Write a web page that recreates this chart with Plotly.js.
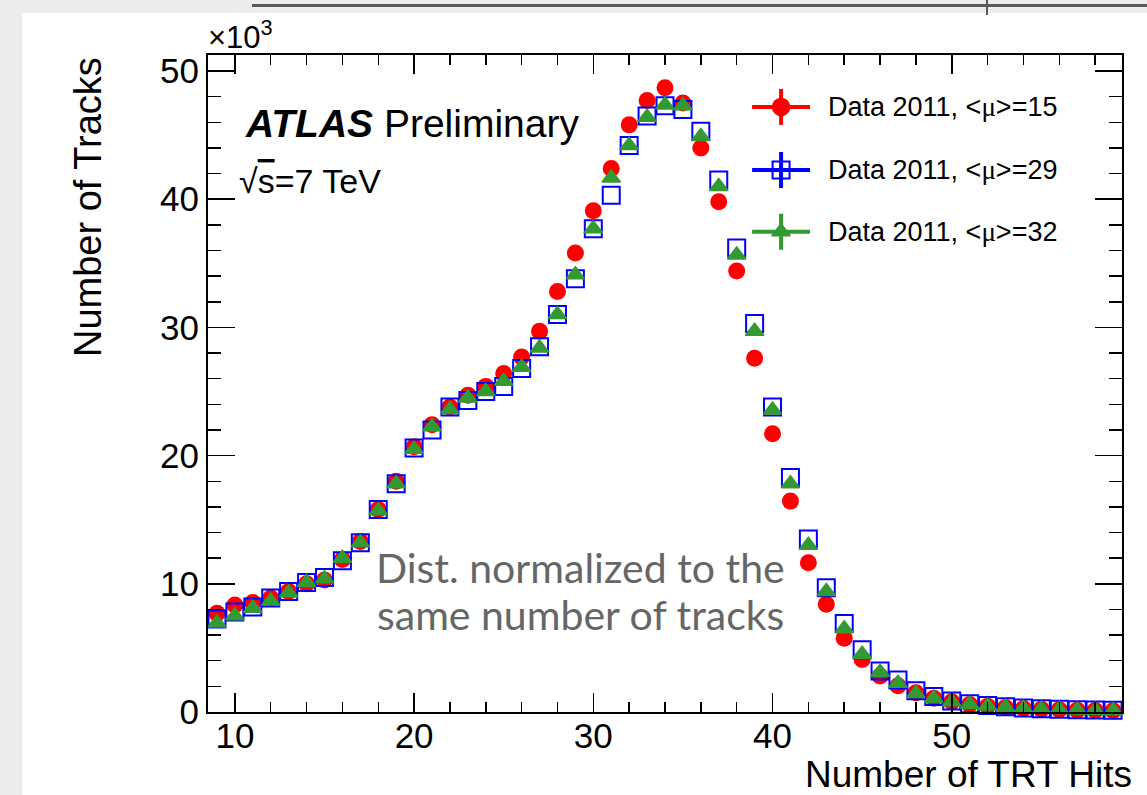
<!DOCTYPE html>
<html><head><meta charset="utf-8">
<script src="https://cdn.plot.ly/plotly-3.0.1.min.js"></script>
<style>html,body{margin:0;padding:0;background:#ececec;}#chart{width:1147px;height:795px;}</style>
</head><body><div id="chart"></div>
<script>
// Number of TRT hits (bin centres)
const hits = [9,10,11,12,13,14,15,16,17,18,19,20,21,22,23,24,25,26,27,28,29,30,31,32,33,34,35,36,37,38,39,40,41,42,43,44,45,46,47,48,49,50,51,52,53,54,55,56,57,58,59];
// Number of tracks (x10^3)
const mu15 = [7.7,8.35,8.55,8.9,9.4,10.0,10.3,11.9,13.3,15.8,18.0,20.7,22.4,23.8,24.7,25.4,26.4,27.7,29.7,32.8,35.8,39.1,42.4,45.8,47.7,48.7,47.5,44.0,39.8,34.4,27.6,21.7,16.45,11.65,8.4,5.75,4.1,2.8,2.05,1.5,1.07,0.8,0.58,0.45,0.35,0.28,0.22,0.18,0.14,0.12,0.1];
const mu29 = [7.25,7.8,8.2,8.9,9.4,10.1,10.5,11.8,13.2,15.8,17.8,20.6,22.0,23.8,24.3,25.0,25.4,26.8,28.5,31.0,33.8,37.7,40.3,44.2,46.5,47.3,47.0,45.3,41.5,36.2,30.3,23.8,18.3,13.5,9.7,6.9,4.85,3.2,2.5,1.65,1.2,0.85,0.65,0.5,0.4,0.32,0.26,0.22,0.18,0.15,0.13];
const mu32 = [6.95,7.5,8.1,8.65,9.3,10.1,10.4,12.0,13.2,15.7,17.8,20.5,22.25,23.6,24.5,25.0,25.8,26.9,28.4,31.0,34.1,37.7,41.65,44.2,46.4,47.35,47.3,44.9,41.0,35.65,29.7,23.55,17.8,13.0,9.4,6.5,4.5,3.1,2.25,1.45,1.07,0.8,0.6,0.47,0.37,0.3,0.24,0.2,0.16,0.13,0.11];
const seriesLabels = ['15','29','32'];
const xTitle = 'Number of TRT Hits';
const yTitle = 'Number of Tracks';

const RED = '#ff0000', BLUE = '#0000ff', GREEN = '#339933';
const FONT = 'Liberation Sans, Arial, sans-serif';

const traces = [
  {x: hits, y: mu15, type: 'scatter', mode: 'markers', cliponaxis: false, showlegend: false,
   marker: {symbol: 'circle', size: 17, color: RED}},
  {x: hits, y: mu29, type: 'scatter', mode: 'markers', cliponaxis: false, showlegend: false,
   marker: {symbol: 'square-open', size: 17, color: BLUE, line: {width: 2, color: BLUE}}},
  {x: hits, y: mu32, type: 'scatter', mode: 'markers', cliponaxis: false, showlegend: false,
   marker: {symbol: 'triangle-up', size: 16, color: GREEN, line: {width: 1.5, color: GREEN}}}
];

// legend keys (drawn on an auxiliary 0..1 axis pair)
const legX = 0.627, legY = [0.921, 0.825, 0.731];
const legCols = [RED, BLUE, GREEN];
const legSym = ['circle', 'square-open', 'triangle-up'];
const legSize = [17, 17, 16];
for (let i = 0; i < 3; i++) {
  traces.push({x: [legX], y: [legY[i]], xaxis: 'x2', yaxis: 'y2', type: 'scatter', mode: 'markers',
    showlegend: false, cliponaxis: false, hoverinfo: 'skip',
    error_x: {type: 'constant', value: 0.0317, width: 0, thickness: 4, color: legCols[i]},
    error_y: {type: 'constant', value: 0.0274, width: 0, thickness: 4, color: legCols[i]},
    marker: {symbol: legSym[i], size: legSize[i], color: legCols[i], line: {width: legSym[i]==='square-open'?2:1.5, color: legCols[i]}}});
}

const annotations = [
  {xref: 'paper', yref: 'paper', x: -0.002, y: 1.03, xanchor: 'left', yanchor: 'middle', showarrow: false,
   text: '×10<sup>3</sup>', font: {family: FONT, size: 31, color: '#000'}},
  {xref: 'paper', yref: 'paper', x: 0.0383, y: 0.895, xanchor: 'left', yanchor: 'middle', showarrow: false,
   text: '<b><i>ATLAS</i></b> Preliminary', font: {family: FONT, size: 39, color: '#000'}},
  {xref: 'paper', yref: 'paper', x: 0.0317, y: 0.808, xanchor: 'left', yanchor: 'middle', showarrow: false,
   text: '√<span style="text-decoration:overline">s</span>=7 TeV', font: {family: FONT, size: 34, color: '#000'}},
  {xref: 'paper', yref: 'paper', x: 0.4075, y: (712-567)/657, xanchor: 'center', yanchor: 'middle', showarrow: false,
   text: 'Dist. normalized to the', font: {family: 'Lato, sans-serif', size: 41, color: '#666'}},
  {xref: 'paper', yref: 'paper', x: 0.4075, y: (712-614)/657, xanchor: 'center', yanchor: 'middle', showarrow: false,
   text: 'same number of tracks', font: {family: 'Lato, sans-serif', size: 41, color: '#666'}},
  {xref: 'paper', yref: 'paper', x: -0.1313, y: 1.0, xanchor: 'center', yanchor: 'top', showarrow: false, textangle: -90,
   text: yTitle, font: {family: FONT, size: 38, color: '#000'}},
  {xref: 'paper', yref: 'paper', x: 1.012, y: (712-796)/657, xanchor: 'right', yanchor: 'bottom', showarrow: false,
   borderpad: 0, text: xTitle, font: {family: FONT, size: 37, color: '#000'}}
];
for (let i = 0; i < 3; i++) {
  annotations.push({xref: 'paper', yref: 'paper', x: 0.676, y: legY[i], xanchor: 'left', yanchor: 'middle', showarrow: false,
    text: 'Data 2011, &lt;<span style="font-family:Liberation Serif">μ</span>&gt;=' + seriesLabels[i],
    font: {family: FONT, size: 27, color: '#000'}});
}

const shapes = [
  // white panel
  {type: 'rect', xref: 'paper', yref: 'paper', x0: -0.2035, x1: 1.05, y0: -0.2, y1: 1.0639, layer: 'below',
   fillcolor: '#ffffff', line: {width: 0}},
  // top dark bar
  {type: 'line', xref: 'paper', yref: 'paper', x0: (252-208)/914, x1: 1.05, y0: (712-5.5)/657, y1: (712-5.5)/657,
   line: {color: '#5a5a5a', width: 3}},
  {type: 'line', xref: 'paper', yref: 'paper', x0: (987-208)/914, x1: (987-208)/914, y0: (712-0)/657, y1: (712-15)/657,
   line: {color: '#5a5a5a', width: 2}}
];

const axisCommon = {showgrid: false, zeroline: false, showline: true, linecolor: '#000', linewidth: 2,
  mirror: 'ticks', ticks: 'inside', tickcolor: '#000', tickwidth: 1.5,
  tickfont: {family: FONT, size: 35, color: '#000'}};

const layout = {
  width: 1147, height: 795,
  margin: {l: 208, r: 25, t: 55, b: 83},
  paper_bgcolor: '#ececec', plot_bgcolor: 'rgba(0,0,0,0)',
  showlegend: false,
  xaxis: Object.assign({}, axisCommon, {range: [8.5, 59.5], tick0: 10, dtick: 10, ticklen: 19, ticklabelstandoff: -8,
    minor: {dtick: 2, ticklen: 10, ticks: 'inside', tickcolor: '#000', tickwidth: 1.5}}),
  yaxis: Object.assign({}, axisCommon, {range: [0, 51.25], tick0: 0, dtick: 10, ticklen: 27,
    minor: {dtick: 2, ticklen: 13, ticks: 'inside', tickcolor: '#000', tickwidth: 1.5}}),
  xaxis2: {overlaying: 'x', range: [0, 1], visible: false, fixedrange: true},
  yaxis2: {overlaying: 'y', range: [0, 1], visible: false, fixedrange: true},
  annotations: annotations,
  shapes: shapes
};

Plotly.newPlot('chart', traces, layout, {staticPlot: true});
</script>
</body></html>
